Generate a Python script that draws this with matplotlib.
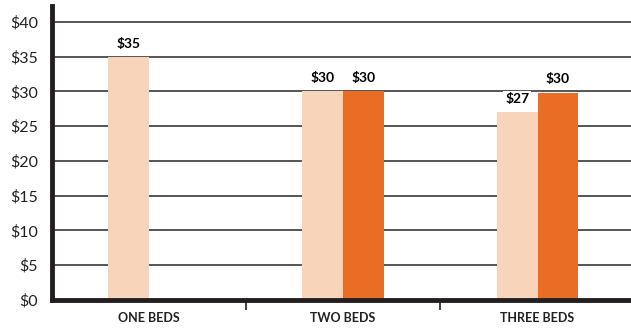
import matplotlib
matplotlib.use("Agg")
import matplotlib.pyplot as plt
import numpy as np

categories = ["ONE BEDS", "TWO BEDS", "THREE BEDS"]
light_values = [35, 30, 27]
orange_values = [None, 30, 29.8]
light_labels = ["$35", "$30", "$27"]
orange_labels = [None, "$30", "$30"]
y_ticks = [0, 5, 10, 15, 20, 25, 30, 35, 40]
y_tick_labels = ["$0", "$5", "$10", "$15", "$20", "$25", "$30", "$35", "$40"]

light_color = "#F8D4BA"
orange_color = "#EA6D25"

plt.rcParams["font.family"] = ["Lato", "DejaVu Sans"]

fig = plt.figure(figsize=(6.31, 3.28), dpi=100)
ax = fig.add_axes([52 / 631, 28 / 328, 1 - 52 / 631, (300 - 6) / 328])

x = np.arange(len(categories))
w = 0.21

for i in range(len(categories)):
    if light_values[i] is not None:
        ax.bar(x[i] - w / 2, light_values[i], width=w, color=light_color, zorder=3)
        ax.text(x[i] - w / 2, light_values[i] + 1.9, light_labels[i], ha="center", va="center",
                fontsize=10, fontweight="bold", zorder=5,
                bbox=dict(facecolor="white", edgecolor="none", pad=1.5))
    if orange_values[i] is not None:
        ax.bar(x[i] + w / 2, orange_values[i], width=w, color=orange_color, zorder=3)
        ax.text(x[i] + w / 2, orange_values[i] + 2.0, orange_labels[i], ha="center", va="center",
                fontsize=10, fontweight="bold", zorder=5,
                bbox=dict(facecolor="white", edgecolor="none", pad=1.5))

ax.set_xlim(-0.496, 2.48)
ax.set_ylim(0, 42.3)

ax.set_yticks(y_ticks)
ax.set_yticklabels(y_tick_labels, fontsize=11.5, color="#222222")
ax.tick_params(axis="y", length=0, pad=10)
for yv in y_ticks[1:]:
    ax.axhline(yv, color="#555555", linewidth=1.4, zorder=1)

ax.set_xticks(x)
ax.set_xticklabels(categories, fontsize=9, fontweight="bold", color="#222222")
ax.tick_params(axis="x", which="major", length=0, pad=9)
ax.set_xticks([0.5, 1.5], minor=True)
ax.tick_params(axis="x", which="minor", length=7, width=1.2, color="#222222", direction="out")

for side in ["top", "right"]:
    ax.spines[side].set_visible(False)
ax.spines["left"].set_linewidth(3.5)
ax.spines["left"].set_color("#231F20")
ax.spines["bottom"].set_linewidth(3.5)
ax.spines["bottom"].set_color("#231F20")
ax.spines["left"].set_zorder(4)
ax.spines["bottom"].set_zorder(4)

fig.savefig("out.png", dpi=100)
